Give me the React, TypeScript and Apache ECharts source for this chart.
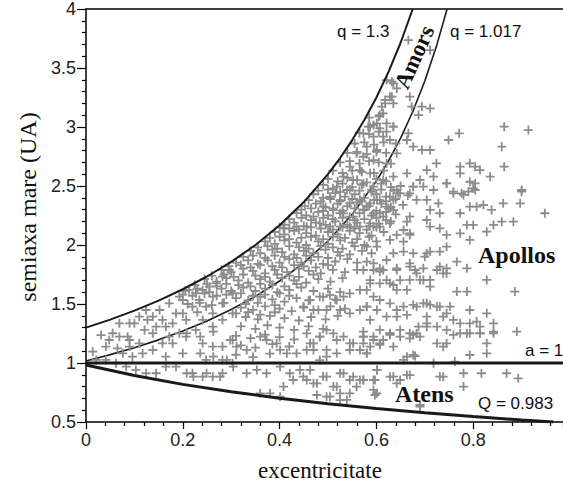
import React, { useEffect, useRef } from "react";
import * as echarts from "echarts";

// ---- axis ranges / ticks ----
const xTicks = [0, 0.2, 0.4, 0.6, 0.8];
const yTicks = [0.5, 1, 1.5, 2, 2.5, 3, 3.5, 4];

// ---- boundary curves (e, a) ----
const q13Curve: number[][] = [[0,1.3],[0.05,1.368],[0.1,1.444],[0.15,1.529],[0.2,1.625],[0.25,1.733],[0.3,1.857],[0.35,2.0],[0.4,2.167],[0.45,2.364],[0.5,2.6],[0.525,2.737],[0.55,2.889],[0.575,3.059],[0.6,3.25],[0.625,3.467],[0.65,3.714],[0.675,4.0]];
const q1017Curve: number[][] = [[0,1.017],[0.05,1.071],[0.1,1.13],[0.15,1.196],[0.2,1.271],[0.25,1.356],[0.3,1.453],[0.35,1.565],[0.4,1.695],[0.45,1.849],[0.5,2.034],[0.55,2.26],[0.6,2.543],[0.625,2.712],[0.65,2.906],[0.675,3.129],[0.7,3.39],[0.725,3.698],[0.746,4.0]];
const a1Line: number[][] = [[0,1],[0.9855,1]];
const Q0983Curve: number[][] = [[0,0.983],[0.1,0.894],[0.2,0.819],[0.3,0.756],[0.4,0.702],[0.5,0.655],[0.6,0.614],[0.7,0.578],[0.8,0.546],[0.9,0.517],[0.966,0.5]];

// ---- asteroid points (e, a) ----
const lowEccPoints: number[][] = [
[0.031,1.237],[0.055,1.252],[0.086,1.223],[0.014,1.096],[0.041,1.139],[0.065,1.124],[0.09,1.139],[0.069,1.336],[0.09,1.336],[0.1,1.336],
[0.127,1.365],[0.121,1.28],[0.138,1.252],[0.145,1.308],[0.158,1.365],[0.165,1.308],[0.179,1.336],[0.186,1.421],[0.2,1.534],[0.207,1.365],
[0.22,1.478],[0.234,1.534],[0.241,1.619],[0.255,1.647],[0.269,1.675],[0.282,1.732],[0.296,1.788],[0.227,1.591],[0.248,1.478],[0.262,1.562],
[0.207,1.223],[0.227,1.28],[0.241,1.167],[0.262,1.139],[0.282,1.139],[0.303,1.195],[0.282,1.026],[0.303,0.997],[0.248,1.026],[0.22,0.913],
[0.241,0.884],[0.262,0.884],[0.282,0.913],[0.165,0.969],[0.186,0.969],[0.145,0.913],[0.124,0.913],[0.103,0.941],[0.083,0.969],[0.062,0.997],
[0.041,1.026],[0.021,1.026],[0.117,1.082],[0.138,1.11],[0.158,1.167],[0.179,1.167],[0.2,1.082],[0.165,1.054],[0.262,1.308],[0.282,1.365],
[0.303,1.421],[0.282,1.506],[0.303,1.591],[0.262,1.421],[0.241,1.365],[0.193,1.252],[0.172,1.223],[0.138,1.393],[0.11,1.393],[0.124,1.449],
[0.152,1.449],[0.172,1.506],[0.193,1.562],[0.213,1.619],[0.11,1.167],[0.09,1.195],[0.076,1.082],[0.096,1.054],[0.069,1.223],[0.048,1.195]
];

const amorsPoints: number[][] = [
[0.666,3.737],[0.711,3.652],[0.632,3.384],[0.642,3.327],[0.632,3.257],[0.618,3.229],[0.611,3.172],[0.607,3.101],[0.669,3.257],[0.673,3.172],
[0.694,3.172],[0.711,3.158],[0.687,3.101],[0.583,3.003],[0.594,3.017],[0.607,2.988],[0.621,2.96],[0.635,3.003],[0.666,2.946],[0.663,2.89],
[0.676,2.833],[0.694,2.805],[0.711,2.805],[0.749,2.89],[0.771,2.946],[0.864,3.003],[0.914,2.974],[0.859,2.833],[0.864,2.664],[0.9,2.466],
[0.724,2.692],[0.704,2.635],[0.718,2.579],[0.773,2.664],[0.773,2.607],[0.793,2.692],[0.804,2.664],[0.814,2.635],[0.835,2.579],[0.793,2.536],
[0.804,2.522],[0.745,2.522],[0.759,2.452],[0.776,2.438],[0.79,2.452],[0.804,2.466],[0.69,2.551],[0.676,2.494],[0.663,2.607],
[0.621,3.398],[0.635,3.37],[0.628,3.257],[0.618,3.2],[0.635,3.2],[0.614,3.116],[0.601,3.031],[0.621,3.031],[0.635,3.003],[0.587,3.003],
[0.573,2.946],[0.594,2.918],[0.614,2.918],[0.628,2.89],[0.58,2.833],[0.601,2.805],[0.559,2.777],[0.573,2.748],[0.594,2.72],[0.621,2.692],
[0.642,2.777],[0.545,2.664],[0.566,2.635],[0.587,2.607],[0.614,2.551],[0.635,2.579],[0.532,2.579],[0.552,2.551],[0.573,2.522],[0.594,2.494],
[0.539,2.466],[0.518,2.494],[0.504,2.409],[0.525,2.381],[0.545,2.353],[0.566,2.381],[0.587,2.353],[0.607,2.381],[0.628,2.409],[0.642,2.466],
[0.49,2.325],[0.511,2.296],[0.532,2.268],[0.552,2.24],[0.573,2.296],[0.594,2.268],[0.614,2.24],[0.635,2.296],[0.47,2.24],[0.483,2.183],
[0.504,2.155],[0.525,2.155],[0.545,2.155],[0.566,2.155],[0.587,2.183],[0.607,2.155],[0.628,2.183],[0.435,2.155],[0.456,2.155],[0.408,2.141]
];

const denseCore: number[][] = [
[0.49,2.51],[0.51,2.48],[0.53,2.52],[0.55,2.49],[0.57,2.51],[0.59,2.47],[0.61,2.52],[0.63,2.49],[0.65,2.5],
[0.47,2.43],[0.49,2.4],[0.515,2.44],[0.535,2.41],[0.555,2.43],[0.575,2.4],[0.6,2.43],[0.62,2.41],[0.645,2.44],[0.665,2.42],
[0.452,2.33],[0.475,2.35],[0.495,2.32],[0.52,2.35],[0.54,2.33],[0.56,2.36],[0.585,2.33],[0.61,2.35],[0.63,2.32],[0.655,2.34],
[0.435,2.27],[0.455,2.25],[0.48,2.28],[0.5,2.25],[0.525,2.27],[0.545,2.24],[0.565,2.27],[0.59,2.25],[0.62,2.28],[0.64,2.26],
[0.41,2.17],[0.43,2.19],[0.45,2.16],[0.475,2.19],[0.495,2.17],[0.515,2.2],[0.54,2.17],[0.56,2.19],[0.585,2.16],[0.605,2.18],[0.63,2.2],
[0.39,2.11],[0.41,2.09],[0.43,2.12],[0.455,2.1],[0.475,2.08],[0.5,2.11],[0.52,2.09],[0.545,2.12],[0.565,2.1],[0.59,2.08],[0.615,2.11],
[0.37,2.03],[0.39,2.01],[0.41,2.04],[0.435,2.02],[0.455,2.0],[0.48,2.03],[0.5,2.01],[0.525,2.04],[0.55,2.02],[0.575,2.0],[0.6,2.03],
[0.34,1.95],[0.36,1.93],[0.385,1.96],[0.405,1.94],[0.43,1.92],[0.45,1.95],[0.47,1.93],[0.495,1.96],[0.52,1.94],[0.545,1.92],[0.57,1.95],[0.59,1.93],
[0.31,1.85],[0.335,1.87],[0.355,1.84],[0.375,1.87],[0.4,1.85],[0.42,1.88],[0.445,1.85],[0.465,1.87],[0.49,1.84],[0.515,1.86],[0.54,1.88],[0.56,1.85],
[0.28,1.79],[0.3,1.77],[0.325,1.8],[0.345,1.78],[0.37,1.76],[0.39,1.79],[0.415,1.77],[0.44,1.8],[0.46,1.78],[0.485,1.76],[0.51,1.79],[0.535,1.77],[0.56,1.79],
[0.245,1.71],[0.27,1.69],[0.29,1.72],[0.315,1.7],[0.335,1.68],[0.36,1.71],[0.38,1.69],[0.405,1.72],[0.43,1.7],[0.455,1.68],[0.48,1.71],[0.505,1.69],[0.53,1.72],
[0.205,1.61],[0.23,1.63],[0.255,1.6],[0.28,1.63],[0.3,1.61],[0.325,1.64],[0.35,1.61],[0.37,1.63],[0.395,1.6],[0.42,1.62],[0.445,1.64],[0.47,1.61],[0.5,1.63],[0.525,1.6],
[0.31,1.55],[0.335,1.53],[0.36,1.56],[0.385,1.54],[0.41,1.52],[0.435,1.55],[0.46,1.53],[0.49,1.56],[0.515,1.54],
[0.32,1.47],[0.345,1.45],[0.37,1.48],[0.4,1.46],[0.425,1.44],[0.45,1.47],[0.48,1.45],[0.505,1.48],[0.535,1.46],
[0.33,1.39],[0.355,1.37],[0.38,1.4],[0.41,1.38],[0.44,1.36],[0.465,1.39],[0.495,1.37],[0.52,1.4],
[0.32,1.31],[0.35,1.29],[0.375,1.32],[0.4,1.3],[0.43,1.28],[0.46,1.31],[0.49,1.29],
[0.31,1.23],[0.34,1.21],[0.37,1.24],[0.4,1.22],[0.43,1.2],
[0.32,1.15],[0.35,1.13],[0.385,1.16],[0.42,1.14],
[0.31,1.07],[0.345,1.05],[0.38,1.08]
];

const denseCoreFill: number[][] = [
[0.51,2.63],[0.53,2.61],[0.55,2.63],[0.57,2.62],[0.595,2.61],[0.615,2.63],
[0.525,2.7],[0.545,2.71],[0.565,2.69],[0.585,2.71],[0.605,2.7],[0.63,2.69],
[0.54,2.78],[0.56,2.79],[0.58,2.77],[0.6,2.79],[0.62,2.78],
[0.555,2.86],[0.575,2.87],[0.595,2.85],[0.615,2.87],[0.64,2.86],
[0.565,2.95],[0.585,2.94],[0.605,2.96],[0.585,3.08],[0.605,3.09],
[0.5,2.56],[0.52,2.54],[0.54,2.57],[0.56,2.55],[0.58,2.53],[0.6,2.56],[0.62,2.54],
[0.48,2.46],[0.5,2.47],[0.525,2.45],[0.545,2.47],[0.565,2.46],[0.59,2.45],[0.61,2.47],[0.635,2.46],
[0.46,2.38],[0.485,2.37],[0.505,2.39],[0.525,2.37],[0.55,2.39],[0.57,2.37],[0.595,2.38],[0.62,2.37],[0.64,2.39],
[0.445,2.3],[0.465,2.31],[0.49,2.29],[0.51,2.31],[0.53,2.29],[0.555,2.31],[0.575,2.3],[0.6,2.29],[0.625,2.31],
[0.42,2.22],[0.445,2.23],[0.465,2.21],[0.49,2.23],[0.51,2.22],[0.53,2.23],[0.555,2.21],[0.575,2.22],[0.6,2.23],[0.62,2.21],
[0.4,2.15],[0.42,2.14],[0.44,2.13],[0.465,2.15],[0.485,2.14],[0.51,2.13],[0.53,2.15],[0.555,2.14],[0.58,2.13],[0.6,2.15],
[0.38,2.06],[0.4,2.07],[0.42,2.05],[0.445,2.06],[0.465,2.07],[0.49,2.05],[0.51,2.07],[0.535,2.06],[0.56,2.05],[0.585,2.07],
[0.355,1.98],[0.375,1.99],[0.395,1.97],[0.42,1.99],[0.44,1.98],[0.46,1.97],[0.485,1.99],[0.51,1.98],[0.53,1.97],[0.555,1.99],
[0.325,1.9],[0.345,1.91],[0.37,1.89],[0.39,1.91],[0.41,1.9],[0.435,1.89],[0.455,1.91],[0.48,1.9],[0.5,1.89],[0.525,1.91],
[0.295,1.82],[0.32,1.83],[0.34,1.81],[0.36,1.83],[0.385,1.82],[0.405,1.81],[0.43,1.83],[0.45,1.82],[0.475,1.81],[0.5,1.83],
[0.26,1.74],[0.285,1.75],[0.305,1.73],[0.325,1.75],[0.35,1.74],[0.37,1.73],[0.395,1.75],[0.42,1.74],[0.44,1.73],[0.47,1.75],
[0.225,1.66],[0.25,1.67],[0.27,1.65],[0.29,1.67],[0.315,1.66],[0.34,1.65],[0.36,1.67],[0.385,1.66],[0.41,1.65],[0.435,1.67],
[0.2,1.58],[0.22,1.57],[0.245,1.59],[0.27,1.57],[0.29,1.58],[0.32,1.59],[0.345,1.57],[0.37,1.58],[0.4,1.59],[0.42,1.57],
[0.21,1.5],[0.235,1.51],[0.26,1.49],[0.285,1.51],[0.33,1.5],[0.355,1.51],[0.39,1.49],
[0.2,1.42],[0.23,1.43],[0.31,1.42],[0.335,1.43],[0.36,1.41],[0.39,1.43]
];

const apollosPoints: number[][] = [
[0.9,2.452],[0.862,2.353],[0.897,2.353],[0.948,2.269],[0.8,2.48],[0.78,2.424],[0.759,2.438],[0.745,2.523],[0.728,2.353],[0.704,2.382],
[0.711,2.297],[0.731,2.269],[0.773,2.269],[0.793,2.325],[0.807,2.325],[0.821,2.339],[0.838,2.297],[0.8,2.17],[0.787,2.17],[0.828,2.113],
[0.842,2.17],[0.859,2.198],[0.883,2.198],[0.773,2.099],[0.793,2.043],[0.745,2.085],[0.731,2.141],[0.711,2.156],[0.704,2.212],[0.669,2.24],
[0.663,2.198],[0.656,2.127],[0.669,2.099],[0.642,2.085],[0.628,2.043],[0.656,2.028],[0.745,1.986],[0.731,1.944],[0.711,1.944],[0.7,1.901],
[0.676,1.93],[0.656,1.944],[0.635,1.93],[0.621,1.873],[0.607,1.802],[0.594,1.788],[0.614,1.788],[0.642,1.802],[0.669,1.817],[0.68,1.788],
[0.697,1.802],[0.725,1.788],[0.738,1.76],[0.745,1.802],[0.766,1.859],[0.787,1.802],[0.711,1.704],[0.69,1.704],[0.669,1.704],[0.663,1.619],
[0.642,1.619],[0.628,1.675],[0.607,1.675],[0.587,1.675],[0.58,1.619],[0.828,1.704],[0.766,1.605],[0.787,1.605],[0.886,1.605],[0.607,1.534],
[0.628,1.506],[0.656,1.478],[0.676,1.492],[0.697,1.506],[0.711,1.492],[0.731,1.478],[0.752,1.478],[0.793,1.449],[0.828,1.421],[0.663,1.407],
[0.642,1.393],[0.704,1.393],[0.738,1.393],[0.759,1.365],[0.773,1.336],[0.793,1.336],[0.807,1.351],[0.814,1.308],[0.842,1.336],[0.587,1.365],
[0.607,1.28],[0.628,1.252],[0.669,1.252],[0.687,1.308],[0.704,1.336],[0.725,1.308],[0.745,1.28],[0.773,1.252],[0.793,1.252],[0.814,1.252],
[0.842,1.252],[0.89,1.266],[0.58,1.478],[0.594,1.562],[0.573,1.788],[0.58,1.986],[0.601,1.986],[0.594,2.156],[0.607,2.269],[0.621,2.325],
[0.635,2.382],[0.601,2.382],[0.58,2.325],[0.649,2.438],[0.669,2.438],[0.683,2.382],[0.697,2.495],[0.718,2.466],[0.676,2.495],
[0.669,2.085],[0.704,1.929],[0.731,1.816],[0.745,1.76],[0.669,1.845],[0.683,1.76],[0.697,1.703],[0.711,1.647],[0.642,1.788],[0.649,1.703],
[0.635,1.661],[0.607,1.774],[0.621,1.703],[0.594,1.845],[0.58,1.859],[0.587,1.703],[0.566,1.619],[0.545,1.59],[0.532,1.562],[0.518,1.534],
[0.504,1.576],[0.483,1.562],[0.463,1.534],[0.449,1.477],[0.47,1.449],[0.497,1.449],[0.525,1.449],[0.545,1.421],[0.566,1.449],[0.58,1.477],
[0.601,1.449],[0.621,1.393],[0.642,1.449],[0.683,1.477],[0.704,1.506],[0.725,1.477],[0.745,1.421],[0.704,1.308],[0.683,1.251],[0.669,1.209],
[0.649,1.28],[0.628,1.251],[0.614,1.195],[0.594,1.195],[0.573,1.223],[0.552,1.167],[0.532,1.223],[0.511,1.251],[0.497,1.28],[0.483,1.223],
[0.463,1.167],[0.456,1.251],[0.47,1.11],[0.497,1.054],[0.518,1.082],[0.545,1.11],[0.566,1.11],[0.58,1.082],[0.607,1.167],[0.635,1.138],
[0.663,1.054],[0.68,1.059],[0.738,1.138],[0.483,1.025],
[0.573,1.266],[0.594,1.223],[0.628,1.238],[0.649,1.223],[0.676,1.238],[0.69,1.223],[0.725,1.167],[0.745,1.167],[0.759,1.238],[0.787,1.252],
[0.814,1.252],[0.842,1.266],[0.828,1.167],[0.828,1.082],[0.793,1.068],[0.676,1.068],[0.656,1.026],[0.58,1.082],[0.573,1.167],[0.607,1.153],
[0.208,1.252],[0.236,1.224],[0.263,1.266],[0.298,1.195],[0.311,1.139],[0.332,1.111],[0.36,1.224],[0.373,1.195],[0.394,1.167],[0.401,1.111],
[0.415,1.082],[0.435,1.082],[0.456,1.111],[0.47,1.167],[0.483,1.224],[0.497,1.111],[0.518,1.195],[0.545,1.167],[0.573,1.224],[0.587,1.139],
[0.236,1.082],[0.263,1.054],[0.291,1.026]
];

const atensPoints: number[][] = [
[0.463,0.941],[0.449,0.884],[0.477,0.828],[0.497,0.884],[0.518,0.799],[0.532,0.912],[0.552,0.884],[0.573,0.856],[0.601,0.941],[0.628,0.884],
[0.649,0.856],[0.669,0.898],[0.738,0.884],[0.477,0.729],[0.504,0.715],[0.525,0.686],[0.545,0.743],[0.559,0.799],[0.601,0.743],[0.69,0.644],
[0.718,0.998],[0.762,1.012],[0.601,0.941],[0.635,0.885],[0.642,0.828],[0.663,0.899],[0.573,0.856],[0.597,0.856],[0.597,0.729],[0.69,0.63],
[0.731,0.885],[0.78,0.913],[0.817,0.913],[0.869,0.913],[0.893,0.87],[0.78,0.8],
[0.208,0.913],[0.222,0.885],[0.249,0.913],[0.277,0.885],[0.304,0.969],[0.332,0.913],[0.353,0.941],[0.373,0.913],[0.401,0.969],[0.421,0.913],
[0.442,0.941],[0.456,0.856],[0.47,0.828],[0.49,0.885],[0.511,0.8],[0.525,0.913],[0.545,0.856],[0.566,0.856],[0.594,0.856],[0.36,0.743],
[0.38,0.743],[0.401,0.715],[0.408,0.8],[0.428,0.856],[0.497,0.715],[0.525,0.743],[0.539,0.687],[0.594,0.772]
];

const SANS = "'Liberation Sans', Arial, sans-serif";
const SERIF = "'Liberation Serif', 'Times New Roman', serif";
const PLUS = "path://M4,0H6V4H10V6H6V10H4V6H0V4H4Z";
const DOT_COLOR = "#8c8c8c";
const LINE_COLOR = "#1a1a1a";

export default function App() {
  const ref = useRef<HTMLDivElement>(null);
  useEffect(() => {
    if (!ref.current) return;
    const chart = echarts.init(ref.current, undefined, { renderer: "svg" });
    const scatter = (name: string, data: number[][]) => ({
      name,
      type: "scatter",
      data,
      symbol: PLUS,
      symbolSize: 9,
      itemStyle: { color: DOT_COLOR, opacity: 1 },
      z: 3,
      silent: true,
    });
    const line = (name: string, data: number[][], width: number, z: number) => ({
      name,
      type: "line",
      data,
      showSymbol: false,
      symbol: "none",
      lineStyle: { color: LINE_COLOR, width },
      z,
      silent: true,
    });
    chart.setOption({
      animation: false,
      backgroundColor: "#ffffff",
      grid: { left: 86, top: 9, right: 0, bottom: 65, containLabel: false },
      xAxis: [
        {
          type: "value",
          min: 0,
          max: 0.9855,
          interval: 0.2,
          axisLine: { show: true, onZero: false, lineStyle: { color: "#000", width: 1.5 } },
          axisTick: { show: true, length: 7, lineStyle: { color: "#000", width: 1.2 } },
          minorTick: { show: true, splitNumber: 5, length: 4, lineStyle: { color: "#000", width: 1.2 } },
          splitLine: { show: false },
          axisLabel: {
            fontSize: 18,
            fontFamily: SANS,
            color: "#222",
            margin: 9,
            showMaxLabel: false,
            formatter: (v: number) => (xTicks.some((t) => Math.abs(t - v) < 1e-6) ? String(v) : ""),
          },
        },
        {
          type: "value",
          position: "top",
          min: 0,
          max: 0.9855,
          axisLine: { show: true, onZero: false, lineStyle: { color: "#000", width: 1.5 } },
          axisTick: { show: false },
          axisLabel: { show: false },
          splitLine: { show: false },
        },
      ],
      yAxis: {
        type: "value",
        min: 0.5,
        max: 4,
        interval: 0.5,
        axisLine: { show: true, onZero: false, lineStyle: { color: "#000", width: 1.5 } },
        axisTick: { show: true, length: 9, lineStyle: { color: "#000", width: 1.2 } },
        minorTick: { show: true, splitNumber: 5, length: 4, lineStyle: { color: "#000", width: 1.2 } },
        splitLine: { show: false },
        axisLabel: {
          fontSize: 18,
          fontFamily: SANS,
          color: "#222",
          margin: 10,
          formatter: (v: number) => (yTicks.some((t) => Math.abs(t - v) < 1e-6) ? String(v) : ""),
        },
      },
      series: [
        line("q = 1.017", q1017Curve, 1.6, 2),
        scatter("low", lowEccPoints),
        scatter("amors", amorsPoints),
        scatter("core", denseCore),
        scatter("coreFill", denseCoreFill),
        scatter("apollos", apollosPoints),
        scatter("atens", atensPoints),
        line("q = 1.3", q13Curve, 2, 5),
        line("a = 1", a1Line, 3, 5),
        line("Q = 0.983", Q0983Curve, 3, 5),
      ],
      graphic: [
        { type: "text", x: 320, y: 470, style: { text: "excentricitate", font: `23px ${SERIF}`, fill: "#111", textAlign: "center", textVerticalAlign: "middle" } },
        { type: "text", x: 28, y: 207, rotation: Math.PI / 2, style: { text: "semiaxa mare (UA)", font: `24px ${SERIF}`, fill: "#111", textAlign: "center", textVerticalAlign: "middle" } },
        { type: "text", x: 337, y: 31, z: 10, style: { text: "q = 1.3", font: `17px ${SANS}`, fill: "#111", textAlign: "left", textVerticalAlign: "middle" } },
        { type: "text", x: 450, y: 31, z: 10, style: { text: "q = 1.017", font: `17px ${SANS}`, fill: "#111", textAlign: "left", textVerticalAlign: "middle" } },
        { type: "text", x: 525, y: 350, z: 10, style: { text: "a = 1", font: `17px ${SANS}`, fill: "#111", textAlign: "left", textVerticalAlign: "middle" } },
        { type: "text", x: 478, y: 403, z: 10, style: { text: "Q = 0.983", font: `17px ${SANS}`, fill: "#111", textAlign: "left", textVerticalAlign: "middle" } },
        { type: "text", x: 414, y: 57, z: 10, rotation: (66 * Math.PI) / 180, style: { text: "Amors", font: `bold 23px ${SERIF}`, fill: "#111", textAlign: "center", textVerticalAlign: "middle" } },
        { type: "text", x: 478, y: 255, z: 10, style: { text: "Apollos", font: `bold 24px ${SERIF}`, fill: "#111", textAlign: "left", textVerticalAlign: "middle" } },
        { type: "text", x: 395, y: 394, z: 10, style: { text: "Atens", font: `bold 24px ${SERIF}`, fill: "#111", textAlign: "left", textVerticalAlign: "middle" } },
      ],
    });
    return () => chart.dispose();
  }, []);
  return <div ref={ref} style={{ position: "fixed", left: 0, top: 0, width: 563, height: 487 }} />;
}
